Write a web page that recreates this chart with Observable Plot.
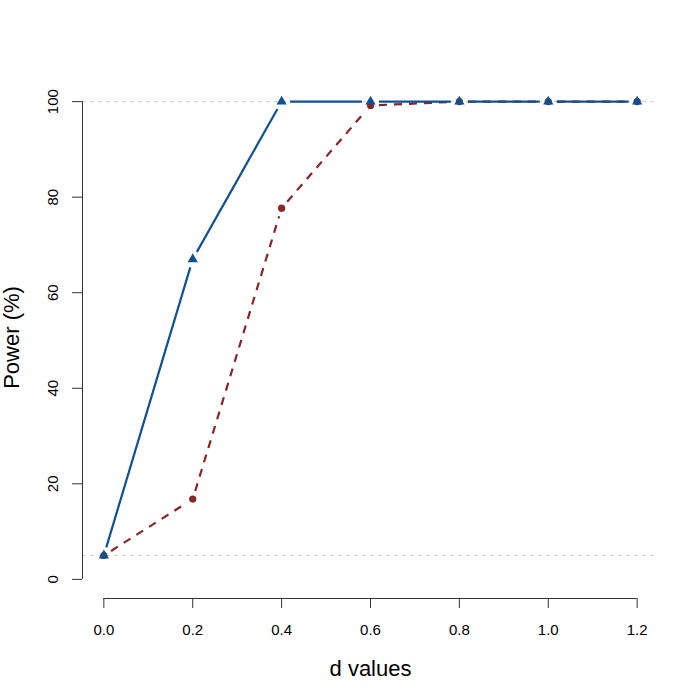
<!DOCTYPE html>
<html>
<head>
<meta charset="utf-8">
<script src="https://cdn.jsdelivr.net/npm/d3@7"></script>
<script src="https://cdn.jsdelivr.net/npm/@observablehq/plot@0.6"></script>
<style>
  html, body { margin: 0; padding: 0; background: #fff; }
  #chart { width: 700px; height: 700px; }
</style>
</head>
<body>
<div id="chart"></div>
<script>
// ---- data ----
const dValues = [0, 0.2, 0.4, 0.6, 0.8, 1.0, 1.2];
const powerTriangle = [5, 67, 100, 100, 100, 100, 100];   // blue, solid, triangles
const powerCircle   = [5, 16.8, 77.7, 99.2, 100, 100, 100]; // red, dashed, circles
const refLevels = [5, 100];
const xTicks = [0, 0.2, 0.4, 0.6, 0.8, 1.0, 1.2];
const xTickLabels = ["0.0", "0.2", "0.4", "0.6", "0.8", "1.0", "1.2"];
const yTicks = [0, 20, 40, 60, 80, 100];
const xTitle = "d values";
const yTitle = "Power (%)";

// ---- layout ----
const W = 700, H = 700;
const mL = 82, mR = 42, mT = 82, mB = 102;
const xDomain = [0 - 0.04 * 1.2, 1.2 + 0.04 * 1.2];
const yDomain = [0 - 0.04 * 100, 100 + 0.04 * 100];
const blue = "#0f5190";
const red = "#8b2424";
const font = "'Liberation Sans', Arial, Helvetica, sans-serif";

const xs = Plot.scale({x: {domain: xDomain, range: [mL, W - mR]}});
const ys = Plot.scale({y: {domain: yDomain, range: [H - mB, mT]}});

// segments with gaps around points (like R type = "b")
function gappedSegments(xv, yv, gap, series) {
  const out = [];
  for (let i = 0; i < xv.length - 1; i++) {
    const px1 = xs.apply(xv[i]), py1 = ys.apply(yv[i]);
    const px2 = xs.apply(xv[i + 1]), py2 = ys.apply(yv[i + 1]);
    const L = Math.hypot(px2 - px1, py2 - py1);
    if (L <= 2 * gap) continue;
    const ux = (px2 - px1) / L, uy = (py2 - py1) / L;
    out.push({
      series,
      x1: xs.invert(px1 + ux * gap), y1: ys.invert(py1 + uy * gap),
      x2: xs.invert(px2 - ux * gap), y2: ys.invert(py2 - uy * gap)
    });
  }
  return out;
}

const segBlue = gappedSegments(dValues, powerTriangle, 8.5, "A");
const segRed = gappedSegments(dValues, powerCircle, 8.5, "B");
const ptsBlue = dValues.map((d, i) => ({d, p: powerTriangle[i]}));
const ptsRed = dValues.map((d, i) => ({d, p: powerCircle[i]}));

const chart = Plot.plot({
  width: W, height: H,
  marginLeft: mL, marginRight: mR, marginTop: mT, marginBottom: mB,
  style: {fontFamily: font, background: "#fff", color: "#000"},
  x: {domain: xDomain, axis: null},
  y: {domain: yDomain, axis: null},
  marks: [
    // reference lines
    Plot.ruleY(refLevels, {stroke: "#cfd3d3", strokeWidth: 1, strokeDasharray: "4,4"}),
    // y axis line and ticks
    Plot.ruleX([xDomain[0]], {y1: yTicks[0], y2: yTicks[yTicks.length - 1], stroke: "#333", strokeWidth: 1}),
    Plot.axisY({ticks: yTicks, tickSize: 10, label: null, text: null, stroke: "#333"}),
    Plot.text(yTicks, {y: d => d, frameAnchor: "left", dx: -29, rotate: -90,
      textAnchor: "middle", lineAnchor: "middle", fontSize: 15, fill: "#000"}),
    // x axis line and ticks
    Plot.ruleY([yDomain[0]], {x1: xTicks[0], x2: xTicks[xTicks.length - 1], stroke: "#333", strokeWidth: 1}),
    Plot.axisX({ticks: xTicks, tickSize: 10, label: null, text: null, stroke: "#333"}),
    Plot.text(xTicks, {x: d => d, text: (d, i) => xTickLabels[i], frameAnchor: "bottom", dy: 32,
      lineAnchor: "middle", fontSize: 15, fill: "#000"}),
    // axis titles
    Plot.text([xTitle], {x: (xTicks[0] + xTicks[xTicks.length - 1]) / 2, text: d => d, frameAnchor: "bottom",
      dy: 70, lineAnchor: "middle", fontSize: 22, fill: "#000"}),
    Plot.text([yTitle], {y: (yTicks[0] + yTicks[yTicks.length - 1]) / 2, text: d => d, frameAnchor: "left",
      dx: -71, dy: -3, rotate: -90, textAnchor: "middle", lineAnchor: "middle", fontSize: 22, fill: "#000"}),
    // series lines
    Plot.link(segRed, {x1: "x1", y1: "y1", x2: "x2", y2: "y2", stroke: red, strokeWidth: 2.2,
      strokeDasharray: "8,7"}),
    Plot.link(segBlue, {x1: "x1", y1: "y1", x2: "x2", y2: "y2", stroke: blue, strokeWidth: 2.2}),
    // points
    Plot.dot(ptsRed, {x: "d", y: "p", r: 3.6, fill: red, stroke: "none"}),
    Plot.dot(ptsBlue, {x: "d", y: "p", r: 3.8, symbol: "triangle", fill: blue, stroke: "none"})
  ]
});
document.getElementById("chart").appendChild(chart);
</script>
</body>
</html>
